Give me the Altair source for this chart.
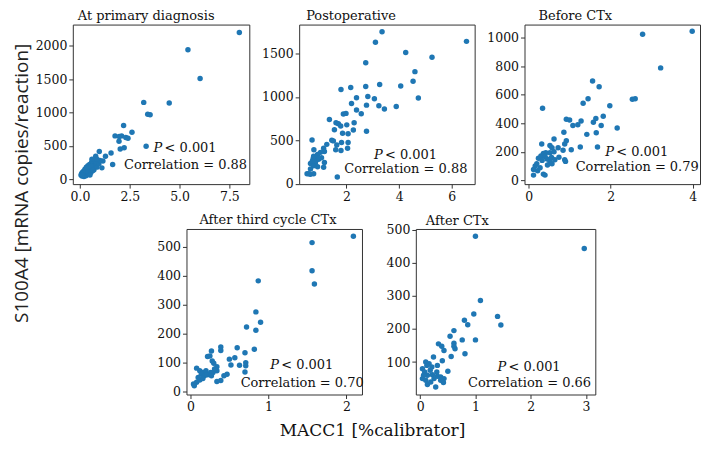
import altair as alt
import pandas as pd

SERIF = "DejaVu Serif"
BLUE = "#1f77b4"

titles = ["At primary diagnosis", "Postoperative", "Before CTx", "After third cycle CTx", "After CTx"]
corrs = ["0.88", "0.88", "0.79", "0.70", "0.66"]
y_title = "S100A4 [mRNA copies/reaction]"
x_title = "MACC1 [%calibrator]"

# Panel 1: At primary diagnosis
p1_x = [8.0, 5.42, 6.03, 3.2, 4.48, 3.40, 3.52, 2.19, 2.61, 1.76, 1.97, 2.09, 1.96, 2.30, 2.41,
        2.02, 2.22, 3.32, 1.56, 0.97, 1.64, 1.10, 1.28, 0.79, 1.15, 0.71,
        0.05, 0.08, 0.10, 0.12, 0.15, 0.18, 0.20, 0.22, 0.25, 0.28, 0.30, 0.32, 0.35, 0.38, 0.40,
        0.42, 0.45, 0.48, 0.50, 0.52, 0.55, 0.58, 0.60, 0.62, 0.65, 0.68, 0.70, 0.75, 0.80, 0.85,
        0.20, 0.30, 0.15, 0.25, 0.35, 0.45, 0.12, 0.40, 0.55, 0.65, 0.50, 0.95, 1.00, 0.60, 0.85]
p1_y = [2200, 1942, 1510, 1152, 1143, 973, 965, 804, 705, 649, 640, 649, 570, 626, 612,
        451, 471, 494, 391, 414, 221, 169, 344, 344, 273, 273,
        60, 80, 45, 100, 70, 120, 90, 55, 150, 110, 75, 180, 130, 95, 200,
        160, 120, 220, 180, 140, 100, 250, 200, 160, 230, 190, 140, 210, 260, 180,
        40, 50, 100, 130, 170, 90, 60, 110, 190, 130, 60, 230, 280, 300, 300]

# Panel 2: Postoperative
p2_x = [3.35, 3.10, 6.56, 4.25, 5.25, 2.73, 4.60, 4.53, 3.26, 2.73, 4.06, 2.16, 1.79, 2.38, 2.81,
        3.06, 4.73, 2.19, 2.76, 3.23, 3.44, 3.89, 2.38, 2.56, 1.88, 1.98, 1.35, 1.60, 1.69, 1.78,
        2.01, 2.29, 1.54, 2.06, 1.85, 2.26, 2.76, 0.69, 1.44, 1.50, 1.25, 1.81, 2.06, 1.63, 1.59,
        1.79, 2.04, 1.13, 0.76, 1.16, 1.01, 0.90, 0.75, 0.88, 0.73, 0.94, 1.16, 0.82, 0.63, 0.75,
        0.90, 1.13, 0.63, 0.50, 0.63, 0.75, 1.65, 0.57, 0.70, 1.05]
p2_y = [1749, 1628, 1639, 1511, 1456, 1394, 1291, 1181, 1144, 1119, 1126, 1108, 1086, 990, 1005,
        979, 987, 924, 906, 899, 862, 891, 851, 807, 803, 811, 741, 704, 693, 667,
        679, 704, 624, 576, 583, 620, 605, 506, 503, 495, 455, 477, 477, 448, 393,
        385, 411, 411, 393, 374, 363, 338, 319, 301, 290, 283, 246, 246, 235, 209,
        198, 191, 172, 118, 110, 118, 81, 118, 260, 300]

# Panel 3: Before CTx
p3_x = [3.99, 2.78, 3.22, 1.56, 1.72, 1.45, 1.33, 0.34, 2.60, 2.53, 1.98, 1.64, 1.82, 1.58, 1.77,
        0.92, 1.00, 1.28, 1.20, 1.08, 2.16, 1.65, 1.42, 0.86, 0.92, 1.26, 1.68, 1.04, 0.62, 0.32,
        0.52, 0.57, 0.72, 0.84, 0.88, 0.42, 0.36, 0.52, 0.24, 0.30, 0.40, 0.56, 0.64, 0.74, 0.88,
        0.90, 0.52, 0.57, 0.46, 0.20, 0.16, 0.12, 0.22, 0.28, 0.12, 0.36, 0.40, 0.45, 0.62, 0.33]
p3_y = [1044, 1022, 787, 695, 655, 571, 540, 504, 571, 567, 522, 433, 449, 407, 384,
        427, 422, 415, 389, 384, 367, 333, 322, 337, 277, 233, 233, 215, 289, 255,
        244, 229, 229, 211, 255, 193, 189, 193, 155, 171, 167, 160, 144, 162, 144,
        133, 133, 117, 107, 117, 100, 77, 67, 89, 37, 44, 37, 150, 200, 140]

# Panel 4: After third cycle CTx
p4_x = [2.09, 1.56, 1.56, 1.59, 0.87, 0.84, 0.90, 0.84, 0.72, 0.82, 0.60, 0.70, 0.39, 0.39, 0.27,
        0.25, 0.28, 0.30, 0.22, 0.50, 0.57, 0.52, 0.63, 0.71, 0.71, 0.70, 0.47, 0.34, 0.34, 0.29,
        0.39, 0.34, 0.08, 0.12, 0.16, 0.20, 0.14, 0.18, 0.10, 0.22, 0.08, 0.04, 0.05, 0.12, 0.16,
        0.26, 0.27, 0.31, 0.43]
p4_y = [536, 514, 417, 371, 382, 275, 239, 212, 223, 146, 151, 134, 154, 142, 140,
        123, 106, 98, 121, 112, 117, 92, 91, 100, 89, 68, 60, 86, 72, 66,
        38, 35, 81, 72, 66, 72, 60, 55, 49, 58, 32, 26, 20, 40, 45,
        66, 55, 78, 55]

# Panel 5: After CTx
p5_x = [1.00, 2.97, 1.09, 0.97, 1.40, 1.46, 0.80, 0.86, 0.61, 0.54, 0.76, 1.00, 0.33, 0.39, 0.43,
        0.61, 0.63, 0.61, 0.81, 0.56, 0.24, 0.40, 0.16, 0.12, 0.21, 0.31, 0.04, 0.08, 0.50, 0.13,
        0.22, 0.31, 0.37, 0.43, 0.42, 0.04, 0.10, 0.13, 0.28, 0.19, 0.25, 0.37, 0.18, 0.10, 0.06,
        0.30]
p5_y = [480, 443, 286, 245, 238, 212, 226, 213, 195, 178, 167, 167, 155, 148, 135,
        157, 140, 148, 125, 117, 115, 104, 95, 90, 85, 90, 80, 70, 72, 60,
        62, 57, 55, 50, 38, 50, 45, 32, 25, 40, 50, 45, 75, 100, 60,
        70]

xdomains = [[-0.36, 8.5], [0.2, 6.87], [-0.1, 4.18], [-0.05, 2.2], [-0.08, 3.17]]
ydomains = [[-75, 2320], [-2, 1832], [-26, 1090], [-10, 561], [2, 502]]
xticks = [[0, 2.5, 5, 7.5], [2, 4, 6], [0, 2, 4], [0, 1, 2], [0, 1, 2, 3]]
yticks = [[0, 500, 1000, 1500, 2000], [0, 500, 1000, 1500], [0, 200, 400, 600, 800, 1000],
          [0, 100, 200, 300, 400, 500], [100, 200, 300, 400, 500]]
xformats = [".1f", "d", "d", "d", "d"]

# layout / style (pixels)
sizes = [(177, 160), (176, 160), (176, 160), (176, 166), (180, 166)]
title_dx = [5, 7, 14, 13, 10]
title_off = [2, 2, 2, 2, -4]
text_pos = [(64, 36, 19), (69, 29, 15), (63, 32, 17), (60, 30, 12), (66, 28, 12)]

data = [(p1_x, p1_y), (p2_x, p2_y), (p3_x, p3_y), (p4_x, p4_y), (p5_x, p5_y)]


def panel(i):
    xs, ys = data[i]
    w, h = sizes[i]
    df = pd.DataFrame({"x": xs, "y": ys})
    pts = alt.Chart(df).mark_circle(size=30, color=BLUE, opacity=1).encode(
        x=alt.X("x:Q", scale=alt.Scale(domain=xdomains[i], nice=False, zero=False),
                axis=alt.Axis(values=xticks[i], format=xformats[i], title=None)),
        y=alt.Y("y:Q", scale=alt.Scale(domain=ydomains[i], nice=False, zero=False),
                axis=alt.Axis(values=yticks[i], format="d", title=None)),
    )
    r, b1, b2 = text_pos[i]
    cx = w - r
    one = pd.DataFrame({"a": [0]})
    tp = alt.Chart(one).mark_text(text="P", fontStyle="italic", align="left", baseline="middle",
                                  font=SERIF, fontSize=13, color="#111").encode(
        x=alt.value(cx - 32), y=alt.value(h - b1))
    tl = alt.Chart(one).mark_text(text="< 0.001", align="left", baseline="middle",
                                  font=SERIF, fontSize=13, color="#111").encode(
        x=alt.value(cx - 21), y=alt.value(h - b1))
    tc = alt.Chart(one).mark_text(text="Correlation = " + corrs[i], align="center", baseline="middle",
                                  font=SERIF, fontSize=13, color="#111").encode(
        x=alt.value(cx), y=alt.value(h - b2))
    return alt.layer(pts, tp, tl, tc).properties(
        width=w, height=h,
        title=alt.TitleParams(titles[i], anchor="start", frame="group", dx=title_dx[i], font=SERIF,
                              fontSize=13, fontWeight="normal", color="#111", offset=title_off[i]),
    )


spacer = alt.Chart(pd.DataFrame({"a": [0]})).mark_point(opacity=0, size=1).encode(
    x=alt.value(0), y=alt.value(0)
).properties(width=63, height=10, view=alt.ViewBackground(strokeOpacity=0))

row1 = alt.hconcat(panel(0), panel(1), panel(2), spacing=10)
row2 = alt.hconcat(spacer, panel(3), panel(4), spacing=20)

inner = alt.vconcat(row1, row2, spacing=10,
                    title=alt.TitleParams(x_title, orient="bottom", anchor="middle", font=SERIF,
                                          fontSize=17, fontWeight="normal", color="#111", offset=10, dx=5))

chart = alt.hconcat(inner, title=alt.TitleParams(y_title, orient="left", anchor="middle", font="Open Sans",
                                                 fontSize=19, fontWeight="normal", color="#222",
                                                 offset=3, dx=41)).properties(
    padding={"left": 4, "top": 0, "right": 0, "bottom": 0}
).configure_view(stroke="#333", strokeWidth=1).configure_axis(
    grid=False, domain=False, ticks=True, tickSize=4, tickColor="#333",
    labelFont=SERIF, labelFontSize=12.5, labelColor="#111", labelPadding=2,
    labelFlush=False, labelOverlap=False, labelBound=False,
)

chart.save("out.html", embed_options={"renderer": "svg", "actions": False})
